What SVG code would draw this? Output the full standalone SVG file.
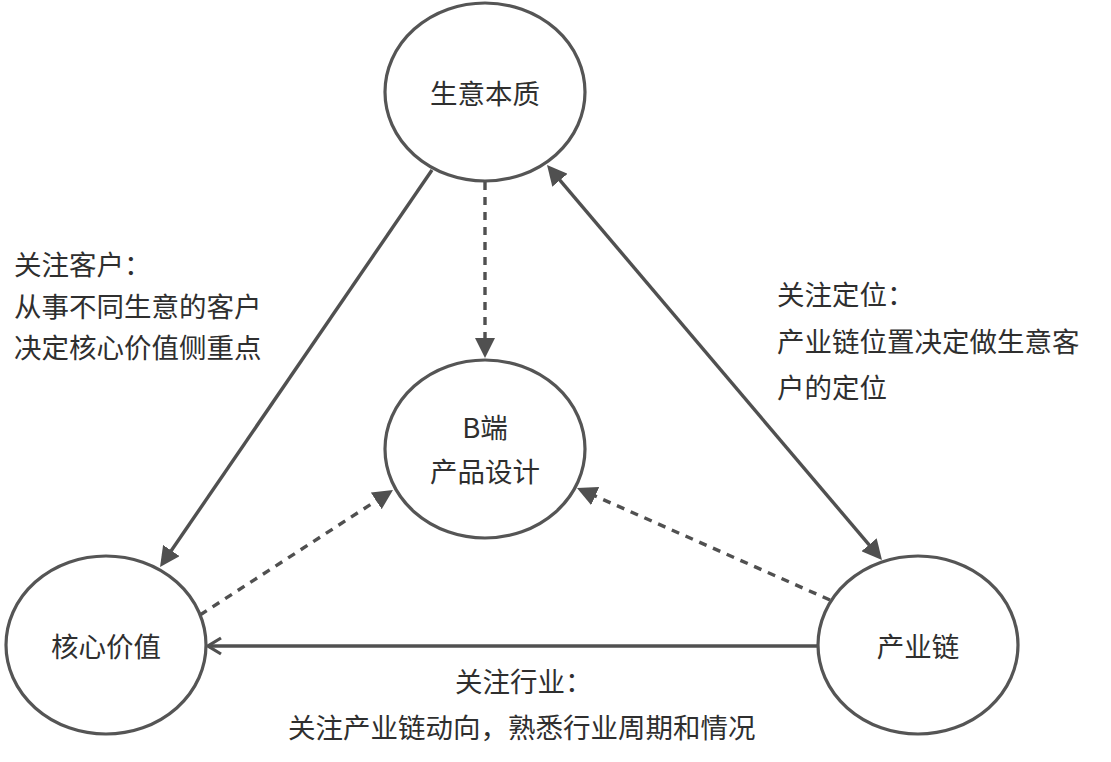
<svg xmlns="http://www.w3.org/2000/svg" width="1111" height="762" viewBox="0 0 1111 762">
  <style>
    .node { fill: #ffffff; stroke: #555555; stroke-width: 3.2; }
    .t { font-family: "Noto Sans CJK SC", "Liberation Sans", sans-serif; font-size: 27.5px; fill: #2f2f2f; }
    .c { text-anchor: middle; }
    .ln { fill: none; stroke: #505050; stroke-width: 3.4; }
    .dash { stroke-dasharray: 8 7; }
  </style>
  <defs>
    <marker id="tri" viewBox="0 0 20 20" refX="10" refY="10" markerWidth="20" markerHeight="20" markerUnits="userSpaceOnUse" orient="auto-start-reverse">
      <path d="M0,0 L20,10 L0,20 z" fill="#505050"/>
    </marker>
    <marker id="open" viewBox="0 0 16 20" refX="14" refY="10" markerWidth="16" markerHeight="20" markerUnits="userSpaceOnUse" orient="auto">
      <path d="M1,2 L14,10 L1,18" fill="none" stroke="#505050" stroke-width="3.2"/>
    </marker>
  </defs>
  <rect width="1111" height="762" fill="#ffffff"/>

  <g id="connectors">
    <path class="ln" d="M432,170 L165.7,558.8" marker-end="url(#tri)"/>
    <path class="ln" d="M553.5,172.6 L875.5,552.4" marker-start="url(#tri)" marker-end="url(#tri)"/>
    <path class="ln dash" d="M485,182 L485,348" marker-end="url(#tri)"/>
    <path class="ln dash" d="M200,615 L384.6,495.4" marker-end="url(#tri)"/>
    <path class="ln dash" d="M830,600 L586.1,492" marker-end="url(#tri)"/>
    <path class="ln" d="M818,646 L208,646" marker-end="url(#open)"/>
  </g>

  <g id="node-shengyi">
    <ellipse class="node" cx="485" cy="92" rx="100" ry="89"/>
    <text class="t c" x="485" y="104">生意本质</text>
  </g>
  <g id="node-b">
    <ellipse class="node" cx="485" cy="449" rx="100" ry="89"/>
    <text class="t c" x="485" y="438">B端</text>
    <text class="t c" x="485" y="482">产品设计</text>
  </g>
  <g id="node-hexin">
    <ellipse class="node" cx="106" cy="645" rx="100" ry="89"/>
    <text class="t c" x="106" y="657">核心价值</text>
  </g>
  <g id="node-chanye">
    <ellipse class="node" cx="918" cy="645" rx="100" ry="89"/>
    <text class="t c" x="918" y="657">产业链</text>
  </g>

  <g id="label-left">
    <text class="t" x="14" y="275">关注客户：</text>
    <text class="t" x="14" y="317">从事不同生意的客户</text>
    <text class="t" x="14" y="358">决定核心价值侧重点</text>
  </g>
  <g id="label-right">
    <text class="t" x="777" y="305">关注定位：</text>
    <text class="t" x="777" y="352">产业链位置决定做生意客</text>
    <text class="t" x="777" y="398">户的定位</text>
  </g>
  <g id="label-bottom">
    <text class="t" x="455" y="692">关注行业：</text>
    <text class="t" x="288" y="738">关注产业链动向，熟悉行业周期和情况</text>
  </g>
</svg>
